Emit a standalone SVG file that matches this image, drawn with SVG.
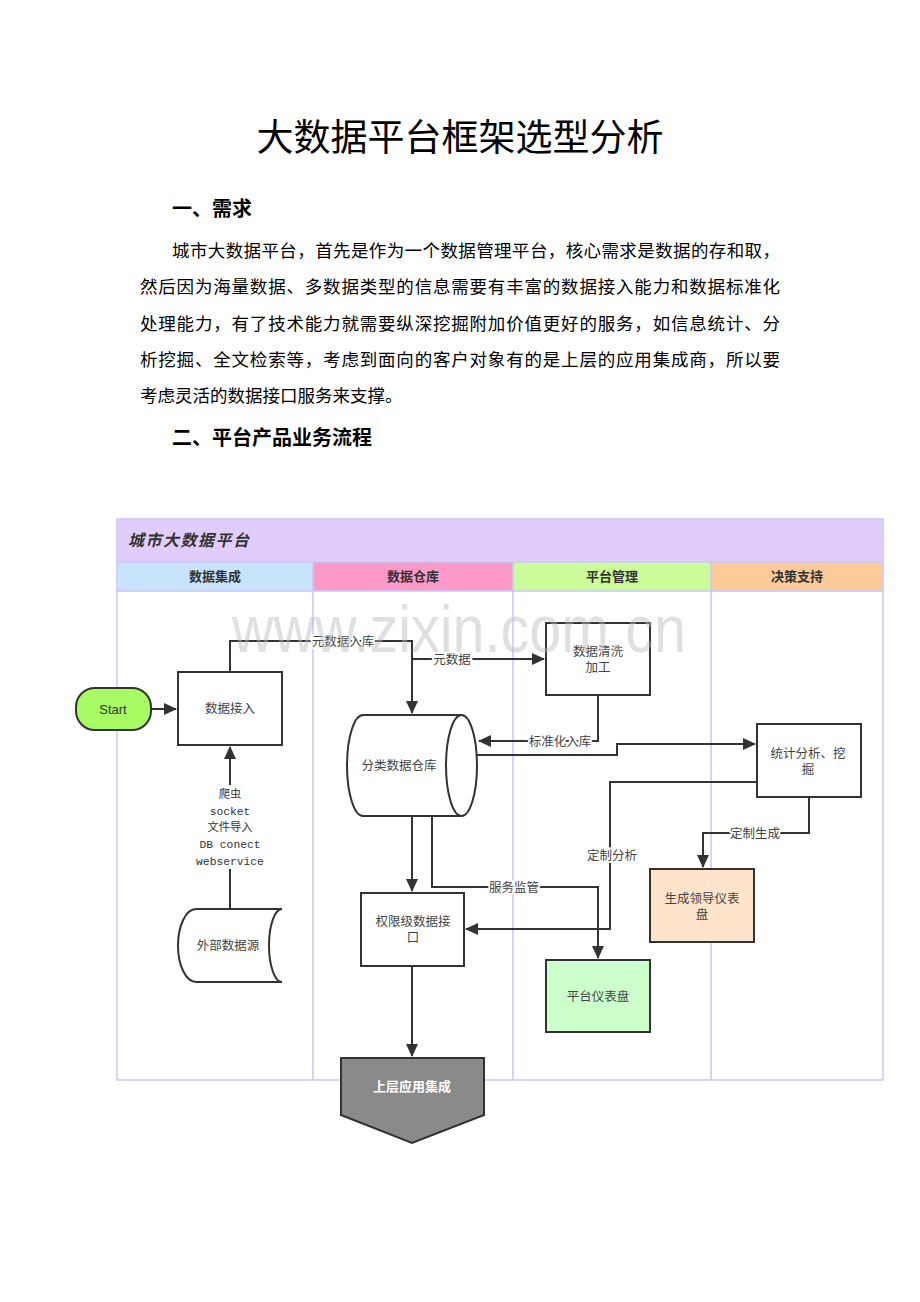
<svg xmlns="http://www.w3.org/2000/svg" width="920" height="1302" viewBox="0 0 920 1302">
<style>
.doc{font-family:"Liberation Serif","Noto Sans CJK SC",serif;fill:#000}
.hd{font-weight:bold;font-size:20px}
.p{font-size:17.5px}
.lane{stroke:#c8c8fa;stroke-width:1.5;fill:none}
.hdr{font-family:"Noto Sans CJK SC",sans-serif;font-size:13px;font-weight:bold;fill:#333;text-anchor:middle}
.box{fill:#fff;stroke:#333;stroke-width:2}
.t{font-family:"Noto Sans CJK SC",sans-serif;font-size:12.5px;fill:#444;text-anchor:middle}
.c{fill:none;stroke:#333;stroke-width:2}
.lbl{font-family:"Noto Sans CJK SC",sans-serif;font-size:12.5px;fill:#444;text-anchor:middle;stroke:#fff;stroke-width:4;paint-order:stroke;stroke-linejoin:round}
.mono{font-family:"Liberation Mono","Noto Sans CJK SC",monospace;font-size:11.3px;fill:#333;text-anchor:middle}
</style>
<defs>
<marker id="ah" markerUnits="userSpaceOnUse" markerWidth="14" markerHeight="12" refX="12" refY="6" orient="auto">
<path d="M0,0 L13,6 L0,12 Z" fill="#333"/>
</marker>
</defs>
<rect width="920" height="1302" fill="#fff"/>

<g id="document-text">
<text class="doc" x="460" y="151" font-size="37" text-anchor="middle">大数据平台框架选型分析</text>
<text class="doc hd" x="172" y="216">一、需求</text>
<text class="doc p" x="172" y="257" textLength="608" lengthAdjust="spacing">城市大数据平台，首先是作为一个数据管理平台，核心需求是数据的存和取，</text>
<text class="doc p" x="140" y="293" textLength="640" lengthAdjust="spacing">然后因为海量数据、多数据类型的信息需要有丰富的数据接入能力和数据标准化</text>
<text class="doc p" x="140" y="330" textLength="640" lengthAdjust="spacing">处理能力，有了技术能力就需要纵深挖掘附加价值更好的服务，如信息统计、分</text>
<text class="doc p" x="140" y="366" textLength="640" lengthAdjust="spacing">析挖掘、全文检索等，考虑到面向的客户对象有的是上层的应用集成商，所以要</text>
<text class="doc p" x="140" y="402">考虑灵活的数据接口服务来支撑。</text>
<text class="doc hd" x="172" y="445">二、平台产品业务流程</text>
</g>

<g id="swimlanes">
<rect x="117" y="519" width="766" height="43" fill="#e1cdfb" stroke="#c8c8fa" stroke-width="1.5"/>
<text x="128" y="546" font-family="Noto Sans CJK SC,sans-serif" font-size="16" font-weight="bold" font-style="italic" letter-spacing="1.5" fill="#333">城市大数据平台</text>
<rect x="117" y="562" width="196" height="29" fill="#c9e3fc"/>
<rect x="313" y="562" width="200" height="29" fill="#fc99c9"/>
<rect x="513" y="562" width="198" height="29" fill="#ccfc99"/>
<rect x="711" y="562" width="172" height="29" fill="#fdca99"/>
<text class="hdr" x="215" y="581">数据集成</text>
<text class="hdr" x="413" y="581">数据仓库</text>
<text class="hdr" x="612" y="581">平台管理</text>
<text class="hdr" x="797" y="581">决策支持</text>
<path class="lane" d="M117,562 H883 M117,591 H883 M117,1080 H883 M117,562 V1080 M313,562 V1080 M513,562 V1080 M711,562 V1080 M883,562 V1080"/>
</g>

<g id="connectors">
<path class="c" d="M151,709 H176" marker-end="url(#ah)"/>
<path class="c" d="M230,672 V641 H412 V713" marker-end="url(#ah)"/>
<path class="c" d="M412,659 H544" marker-end="url(#ah)"/>
<path class="c" d="M598,695 V741 H479" marker-end="url(#ah)"/>
<path class="c" d="M477,755 H617 V744 H755" marker-end="url(#ah)"/>
<path class="c" d="M757,782 H610 V929 H466" marker-end="url(#ah)"/>
<path class="c" d="M809,797 V833 H703 V867" marker-end="url(#ah)"/>
<path class="c" d="M412,816 V891" marker-end="url(#ah)"/>
<path class="c" d="M432,816 V887 H598 V958" marker-end="url(#ah)"/>
<path class="c" d="M230,909 V747" marker-end="url(#ah)"/>
<path class="c" d="M412,966 V1056" marker-end="url(#ah)"/>
<text class="lbl" x="343" y="646">元数据入库</text>
<text class="lbl" x="452" y="664">元数据</text>
<text class="lbl" x="560" y="746">标准化入库</text>
<text class="lbl" x="612" y="860">定制分析</text>
<text class="lbl" x="755" y="838">定制生成</text>
<text class="lbl" x="514" y="892">服务监管</text>
<rect x="194" y="785" width="72" height="84" fill="#fff"/>
<text class="mono" x="230" y="798">爬虫</text>
<text class="mono" x="230" y="815">socket</text>
<text class="mono" x="230" y="831">文件导入</text>
<text class="mono" x="230" y="848">DB conect</text>
<text class="mono" x="230" y="865">webservice</text>
</g>

<g id="start">
<rect x="76" y="688" width="75" height="42" rx="19" fill="#a8fb62" stroke="#333" stroke-width="2"/>
<text x="113" y="714" font-family="Liberation Sans,Arial,sans-serif" font-size="13" fill="#333" text-anchor="middle">Start</text>
</g>
<g id="data-access">
<rect class="box" x="178" y="672" width="104" height="73"/>
<text class="t" x="230" y="713">数据接入</text>
</g>
<g id="data-clean">
<rect class="box" x="546" y="623" width="104" height="72"/>
<text class="t" x="598" y="656">数据清洗</text>
<text class="t" x="598" y="672">加工</text>
</g>
<g id="warehouse">
<path class="box" d="M363,715 L461.5,715 A15.5,50.5 0 0 1 461.5,816 L363,816 A16,50.5 0 0 1 363,715 Z"/>
<path class="c" d="M461.5,715 A15.5,50.5 0 0 0 461.5,816"/>
<text class="t" x="399" y="770">分类数据仓库</text>
</g>
<g id="stats">
<rect class="box" x="757" y="724" width="104" height="73"/>
<text class="t" x="808" y="758">统计分析、挖</text>
<text class="t" x="808" y="774">掘</text>
</g>
<g id="leader-dashboard">
<rect x="650" y="869" width="104" height="73" fill="#ffe4cc" stroke="#333" stroke-width="2"/>
<text class="t" x="702" y="903">生成领导仪表</text>
<text class="t" x="702" y="919">盘</text>
</g>
<g id="permission-api">
<rect class="box" x="361" y="893" width="103" height="73"/>
<text class="t" x="413" y="926">权限级数据接</text>
<text class="t" x="413" y="942">口</text>
</g>
<g id="platform-dashboard">
<rect x="546" y="960" width="104" height="72" fill="#ccffcc" stroke="#333" stroke-width="2"/>
<text class="t" x="598" y="1001">平台仪表盘</text>
</g>
<g id="external-source">
<path class="box" d="M196,909 L282,909 A13,36.5 0 0 0 282,982 L196,982 A18,36.5 0 0 1 196,909 Z"/>
<text class="t" x="228" y="950">外部数据源</text>
</g>
<g id="upper-app">
<path d="M341,1058 L484,1058 L484,1115 L412,1143 L341,1115 Z" fill="#8a8a8a" stroke="#333" stroke-width="2"/>
<text x="412" y="1091" font-family="Noto Sans CJK SC,sans-serif" font-size="13" font-weight="bold" fill="#fff" text-anchor="middle">上层应用集成</text>
</g>

<text x="232" y="652" font-family="Liberation Sans,Arial,sans-serif" font-size="66" fill="#bbb" opacity="0.45" textLength="454" lengthAdjust="spacingAndGlyphs">www.zixin.com.cn</text>
</svg>
